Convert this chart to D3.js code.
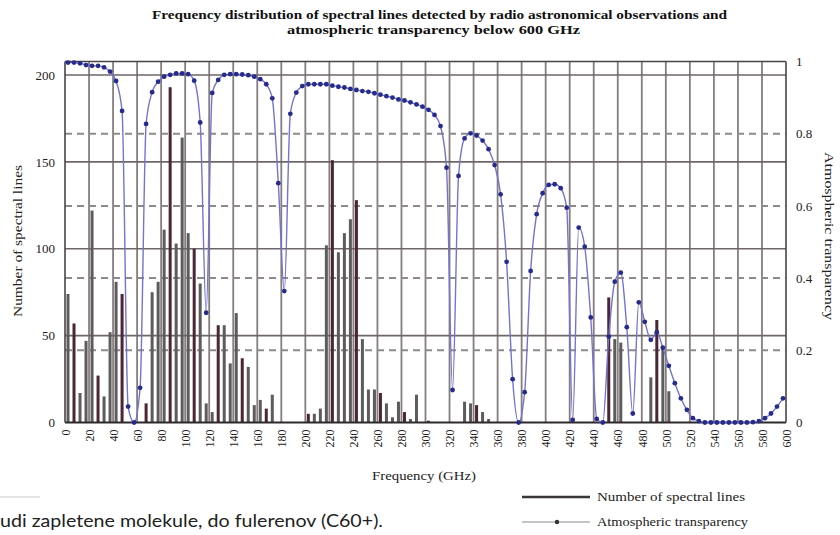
<!DOCTYPE html>
<html>
<head>
<meta charset="utf-8">
<script src="https://cdn.jsdelivr.net/npm/d3@7/dist/d3.min.js"></script>
<style>
  html, body { margin: 0; padding: 0; background: #fff; }
  svg { display: block; }
</style>
</head>
<body>
<svg id="chart" width="840" height="535"></svg>
<script>
// ---------------- DATA ----------------
const titleLines = [
  "Frequency distribution of spectral lines detected by radio astronomical observations and",
  "atmospheric transparency below 600 GHz"
];
const xTicks = [0,20,40,60,80,100,120,140,160,180,200,220,240,260,280,300,320,340,360,380,400,420,440,460,480,500,520,540,560,580,600];
const leftTicks = [0, 50, 100, 150, 200];
const rightTicks = [0, 0.2, 0.4, 0.6, 0.8, 1];

// bin centres (GHz)
const freqGHz = [
  2.5,7.5,12.5,17.5,22.5,27.5,32.5,37.5,42.5,47.5,
  52.5,57.5,62.5,67.5,72.5,77.5,82.5,87.5,92.5,97.5,
  102.5,107.5,112.5,117.5,122.5,127.5,132.5,137.5,142.5,147.5,
  152.5,157.5,162.5,167.5,172.5,177.5,182.5,187.5,192.5,197.5,
  202.5,207.5,212.5,217.5,222.5,227.5,232.5,237.5,242.5,247.5,
  252.5,257.5,262.5,267.5,272.5,277.5,282.5,287.5,292.5,297.5,
  302.5,307.5,312.5,317.5,322.5,327.5,332.5,337.5,342.5,347.5,
  352.5,357.5,362.5,367.5,372.5,377.5,382.5,387.5,392.5,397.5,
  402.5,407.5,412.5,417.5,422.5,427.5,432.5,437.5,442.5,447.5,
  452.5,457.5,462.5,467.5,472.5,477.5,482.5,487.5,492.5,497.5,
  502.5,507.5,512.5,517.5,522.5,527.5,532.5,537.5,542.5,547.5,
  552.5,557.5,562.5,567.5,572.5,577.5,582.5,587.5,592.5,597.5
];

// Number of spectral lines per bin
const spectralLines = [
  74,57,17,47,122,27,15,52,81,74,
  0,0,0,11,75,81,111,193,103,164,
  109,100,80,11,6,56,56,34,63,37,
  32,10,13,8,16,0,0,0,0,0,
  5,5,8,102,151,98,109,117,128,48,
  19,19,17,11,3,12,6,2,16,0,
  1,0,0,0,0,0,12,11,10,6,
  2,0,0,0,0,0,0,0,0,0,
  0,0,0,0,0,0,0,0,0,0,
  72,48,46,0,0,0,0,26,59,43,
  18,0,0,0,0,0,0,0,0,0,
  0,0,0,0,0,0,0,0,0,0
];

// Atmospheric transparency per bin
const transparency = [
  0.997,0.997,0.995,0.990,0.988,0.988,0.984,0.972,0.946,0.863,
  0.044,0.000,0.096,0.827,0.915,0.944,0.958,0.963,0.967,0.967,
  0.965,0.947,0.831,0.304,0.913,0.949,0.963,0.965,0.965,0.964,
  0.962,0.958,0.951,0.937,0.898,0.663,0.364,0.855,0.914,0.932,
  0.937,0.937,0.937,0.937,0.933,0.930,0.928,0.924,0.921,0.918,
  0.916,0.912,0.908,0.904,0.900,0.895,0.892,0.887,0.881,0.875,
  0.866,0.852,0.821,0.706,0.090,0.683,0.787,0.801,0.795,0.781,
  0.757,0.713,0.632,0.445,0.120,0.000,0.084,0.420,0.577,0.635,
  0.658,0.660,0.649,0.595,0.007,0.540,0.487,0.291,0.010,0.000,
  0.238,0.390,0.415,0.264,0.025,0.333,0.279,0.229,0.250,0.207,
  0.157,0.109,0.067,0.035,0.012,0.004,0.000,0.000,0.000,0.000,
  0.000,0.000,0.000,0.000,0.001,0.004,0.012,0.025,0.044,0.067
];

const legendLabels = ["Number of spectral lines", "Atmospheric transparency"];
const xAxisTitle = "Frequency (GHz)";
const yLeftTitle = "Number of spectral lines";
const yRightTitle = "Atmospheric transparency";
const footerText = "udi zapletene molekule, do fulerenov (C60+).";

// ---------------- DRAW ----------------
const svg = d3.select("#chart");
const serif = "'Liberation Serif', 'DejaVu Serif', serif";

const plot = { left: 65, right: 786, top: 61.5, bottom: 422.5 };

const x = d3.scaleLinear().domain([0, 600]).range([plot.left, plot.right]);
const yL = d3.scaleLinear().domain([0, 207.8]).range([plot.bottom, plot.top]);
const yR = d3.scaleLinear().domain([0, 1]).range([plot.bottom, plot.top]);

svg.append("rect").attr("width", 840).attr("height", 535).attr("fill", "#fff");

// Title
svg.append("text").attr("x", 439.5).attr("y", 19)
  .attr("text-anchor", "middle").attr("font-family", serif).attr("font-weight", "bold")
  .attr("font-size", 12.5).attr("fill", "#111")
  .attr("textLength", 575).attr("lengthAdjust", "spacingAndGlyphs")
  .text(titleLines[0]);
svg.append("text").attr("x", 433.5).attr("y", 33.5)
  .attr("text-anchor", "middle").attr("font-family", serif).attr("font-weight", "bold")
  .attr("font-size", 12.5).attr("fill", "#111")
  .attr("textLength", 293).attr("lengthAdjust", "spacingAndGlyphs")
  .text(titleLines[1]);

// Grid: vertical solid lines
const grid = svg.append("g");
grid.selectAll("line.v").data(xTicks.filter(d => d > 0 && d < 600)).join("line")
  .attr("x1", d => x(d)).attr("x2", d => x(d))
  .attr("y1", plot.top).attr("y2", plot.bottom)
  .attr("stroke", "#857d7f").attr("stroke-width", 1.8);

// Horizontal dashed (right axis ticks)
grid.selectAll("line.hd").data(rightTicks.filter(d => d > 0 && d < 1)).join("line")
  .attr("x1", plot.left).attr("x2", plot.right)
  .attr("y1", d => yR(d)).attr("y2", d => yR(d))
  .attr("stroke", "#8e8a8a").attr("stroke-width", 2)
  .attr("stroke-dasharray", "7,5");

// Horizontal solid (left axis ticks)
grid.selectAll("line.hs").data(leftTicks.filter(d => d > 0)).join("line")
  .attr("x1", plot.left).attr("x2", plot.right)
  .attr("y1", d => yL(d)).attr("y2", d => yL(d))
  .attr("stroke", "#6f6668").attr("stroke-width", 1.6);

// Bars
const barW = 3;
function maroonPhase(f) { return f < 190 ? 1 : (f < 400 ? 0 : 2); }
const bars = freqGHz.map((f, i) => ({ f, v: spectralLines[i], i })).filter(d => d.v > 0);
svg.append("g").selectAll("rect").data(bars).join("rect")
  .attr("x", d => x(d.f) - barW / 2)
  .attr("y", d => yL(d.v))
  .attr("width", barW)
  .attr("height", d => yL(0) - yL(d.v))
  .attr("fill", d => (d.i % 4 === maroonPhase(d.f)) ? "#4a2636" : "#5e5b5c");

// Frame
const frame = svg.append("g").attr("stroke", "#4a4446").attr("stroke-width", 1.6);
frame.append("line").attr("x1", plot.left).attr("x2", plot.right).attr("y1", plot.top).attr("y2", plot.top);
frame.append("line").attr("x1", plot.left).attr("x2", plot.right).attr("y1", plot.bottom).attr("y2", plot.bottom).attr("stroke", "#2e2a2c").attr("stroke-width", 2);
frame.append("line").attr("x1", plot.left).attr("x2", plot.left).attr("y1", plot.top).attr("y2", plot.bottom);
frame.append("line").attr("x1", plot.right).attr("x2", plot.right).attr("y1", plot.top).attr("y2", plot.bottom);

// Transparency line
const pts = freqGHz.map((f, i) => ({ f, t: transparency[i] }));
const line = d3.line().x(d => x(d.f)).y(d => yR(d.t)).curve(d3.curveMonotoneX);
svg.append("path").datum(pts).attr("d", line)
  .attr("fill", "none").attr("stroke", "#7373d2").attr("stroke-width", 1.4);
svg.append("g").selectAll("circle").data(pts).join("circle")
  .attr("cx", d => x(d.f)).attr("cy", d => yR(d.t)).attr("r", 2.4)
  .attr("fill", "#272b8c");

// Axes (labels only)
const leftAxis = d3.axisLeft(yL).tickValues(leftTicks).tickSize(0).tickPadding(10);
const gL = svg.append("g").attr("transform", `translate(${plot.left},0)`).call(leftAxis);
gL.select(".domain").remove();
gL.selectAll("text").attr("font-family", serif).attr("font-size", 13).attr("fill", "#222");

const rightAxis = d3.axisRight(yR).tickValues(rightTicks).tickSize(0).tickPadding(10)
  .tickFormat(d => d === 0 || d === 1 ? String(d) : d3.format(".1f")(d));
const gR = svg.append("g").attr("transform", `translate(${plot.right},0)`).call(rightAxis);
gR.select(".domain").remove();
gR.selectAll("text").attr("font-family", serif).attr("font-size", 13).attr("fill", "#222");

const bottomAxis = d3.axisBottom(x).tickValues(xTicks).tickSize(0).tickPadding(0);
const gB = svg.append("g").attr("transform", `translate(0,${plot.bottom})`).call(bottomAxis);
gB.select(".domain").remove();
gB.selectAll("text")
  .attr("font-family", serif).attr("font-size", 12).attr("fill", "#222")
  .attr("text-anchor", "end")
  .attr("transform", "translate(0,7) rotate(-90)")
  .attr("x", 0).attr("y", 0).attr("dy", "0.35em");

// Axis titles
svg.append("text").attr("x", 424).attr("y", 480).attr("text-anchor", "middle")
  .attr("font-family", serif).attr("font-size", 13).attr("fill", "#222")
  .attr("textLength", 104).attr("lengthAdjust", "spacingAndGlyphs")
  .text(xAxisTitle);
svg.append("text").attr("transform", "translate(22,241) rotate(-90)").attr("text-anchor", "middle")
  .attr("font-family", serif).attr("font-size", 12.5).attr("fill", "#222")
  .attr("textLength", 152).attr("lengthAdjust", "spacingAndGlyphs")
  .text(yLeftTitle);
svg.append("text").attr("transform", "translate(825,236) rotate(90)").attr("text-anchor", "middle")
  .attr("font-family", serif).attr("font-size", 12.5).attr("fill", "#222")
  .attr("textLength", 168).attr("lengthAdjust", "spacingAndGlyphs")
  .text(yRightTitle);

// Legend
const lg = svg.append("g");
lg.append("line").attr("x1", 522).attr("x2", 590).attr("y1", 497).attr("y2", 497)
  .attr("stroke", "#3a3536").attr("stroke-width", 2.5);
lg.append("line").attr("x1", 522).attr("x2", 590).attr("y1", 522).attr("y2", 522)
  .attr("stroke", "#8a8a8a").attr("stroke-width", 1);
lg.append("circle").attr("cx", 557).attr("cy", 522).attr("r", 2.2).attr("fill", "#333");
lg.selectAll("text").data(legendLabels).join("text")
  .attr("x", 597).attr("y", (d, i) => 501 + i * 25)
  .attr("font-family", serif).attr("font-size", 13).attr("fill", "#222")
  .attr("textLength", (d, i) => i === 0 ? 148 : 151).attr("lengthAdjust", "spacingAndGlyphs")
  .text(d => d);

// Footer fragment (from the surrounding page)
svg.append("line").attr("x1", 0).attr("x2", 40).attr("y1", 497).attr("y2", 497)
  .attr("stroke", "#c8c8c8").attr("stroke-width", 1.2);
svg.append("text").attr("x", 0).attr("y", 527)
  .attr("font-family", "Lato, 'Open Sans', sans-serif").attr("font-size", 17).attr("fill", "#222")
  .attr("textLength", 383).attr("lengthAdjust", "spacingAndGlyphs")
  .text(footerText);
</script>
</body>
</html>
